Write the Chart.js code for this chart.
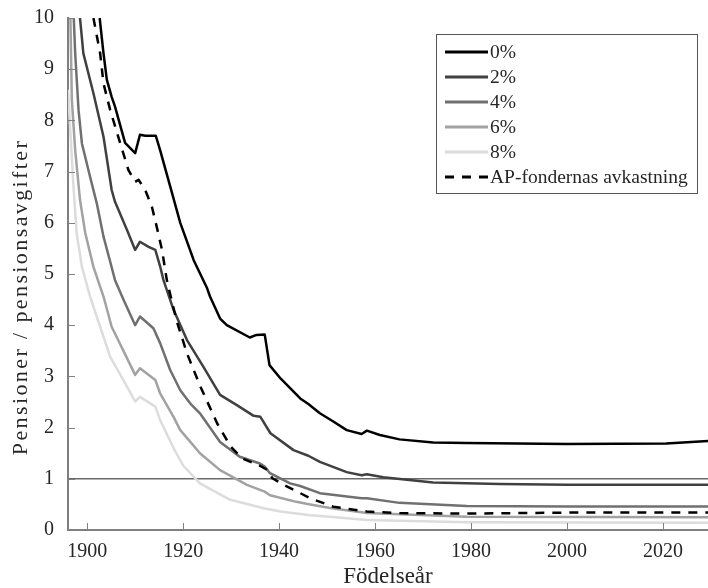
<!DOCTYPE html>
<html>
<head>
<meta charset="utf-8">
<script src="https://cdn.jsdelivr.net/npm/chart.js@4.4.0/dist/chart.umd.min.js"></script>
<style>
    body { margin: 0; background: #fff; }
    #wrap { width: 708px; height: 588px; }
</style>
</head>
<body>
<div id="wrap"><canvas id="pension-chart" width="708" height="588"></canvas></div>
<script>
// Data (birth year -> pensions / contributions)
var years0 = [1902.6, 1903.4, 1904.1, 1905.1, 1905.8, 1907.9, 1910.0, 1911.0, 1912.1, 1914.3, 1915.2, 1917.3, 1919.4, 1922.2, 1925.0, 1925.6, 1927.7, 1929.1, 1933.9, 1935.3, 1937.0, 1938.0, 1940.3, 1944.4, 1946.1, 1948.5, 1951.3, 1954.1, 1957.2, 1958.3, 1961.0, 1965.1, 1972.1, 1979.1, 2000.0, 2020.7, 2030.0];
var vals0 = [10.0, 9.31, 8.79, 8.46, 8.27, 7.56, 7.36, 7.72, 7.70, 7.70, 7.42, 6.71, 6.0, 5.27, 4.72, 4.56, 4.13, 4.0, 3.76, 3.81, 3.82, 3.22, 2.96, 2.57, 2.46, 2.28, 2.12, 1.95, 1.875, 1.94, 1.855, 1.77, 1.71, 1.70, 1.68, 1.69, 1.74];

var years2 = [1898.5, 1899.2, 1901.3, 1903.4, 1905.1, 1905.8, 1908.3, 1910.0, 1911.0, 1912.8, 1914.2, 1915.2, 1915.9, 1918.0, 1920.8, 1924.2, 1927.7, 1931.2, 1934.7, 1936.1, 1938.2, 1943.0, 1946.1, 1948.5, 1954.1, 1957.2, 1958.3, 1961.7, 1972.1, 1986.0, 2000.0, 2030.0];
var vals2 = [10.0, 9.31, 8.53, 7.68, 6.64, 6.41, 5.86, 5.47, 5.63, 5.53, 5.47, 5.15, 4.88, 4.30, 3.71, 3.19, 2.64, 2.44, 2.23, 2.21, 1.89, 1.56, 1.45, 1.33, 1.13, 1.07, 1.09, 1.03, 0.93, 0.90, 0.885, 0.885];

var years4 = [1897.2, 1897.5, 1898.2, 1898.9, 1900.6, 1902.0, 1903.4, 1904.8, 1905.8, 1907.6, 1910.0, 1911.0, 1913.8, 1915.2, 1917.3, 1919.4, 1921.5, 1923.5, 1927.7, 1931.8, 1936.0, 1937.0, 1938.1, 1942.3, 1944.4, 1948.5, 1957.2, 1958.3, 1965.1, 1979.1, 2000.0, 2030.0];
var vals4 = [10.0, 9.31, 8.20, 7.55, 6.90, 6.38, 5.73, 5.24, 4.88, 4.49, 4.00, 4.17, 3.94, 3.65, 3.125, 2.73, 2.47, 2.28, 1.72, 1.43, 1.30, 1.24, 1.11, 0.91, 0.86, 0.72, 0.62, 0.62, 0.53, 0.47, 0.46, 0.46];

var years6 = [1896.5, 1896.8, 1897.5, 1898.5, 1899.6, 1901.3, 1903.4, 1905.1, 1910.0, 1911.0, 1914.2, 1915.2, 1918.0, 1919.4, 1921.5, 1923.5, 1927.7, 1933.3, 1937.0, 1938.1, 1943.6, 1946.5, 1950.6, 1958.3, 1979.1, 2030.0];
var vals6 = [10.0, 8.40, 7.42, 6.45, 5.80, 5.14, 4.56, 3.97, 3.03, 3.16, 2.93, 2.67, 2.21, 1.95, 1.72, 1.50, 1.17, 0.88, 0.75, 0.68, 0.55, 0.50, 0.43, 0.33, 0.26, 0.25];

var years8 = [1896.0, 1897.1, 1897.8, 1898.9, 1900.6, 1904.8, 1908.3, 1910.0, 1911.0, 1914.2, 1915.2, 1918.0, 1920.0, 1923.5, 1929.8, 1937.0, 1940.3, 1946.5, 1950.6, 1958.3, 1979.1, 2030.0];
var vals8 = [8.6, 6.77, 5.80, 5.14, 4.56, 3.38, 2.80, 2.51, 2.60, 2.41, 2.15, 1.60, 1.26, 0.91, 0.59, 0.42, 0.36, 0.29, 0.26, 0.195, 0.15, 0.14];

var yearsAP = [1901.3, 1902.7, 1903.4, 1904.8, 1906.9, 1908.6, 1910.0, 1910.7, 1912.1, 1913.5, 1914.5, 1915.6, 1916.6, 1918.6, 1920.8, 1923.6, 1927.1, 1929.9, 1932.3, 1936.1, 1937.6, 1938.6, 1941.0, 1944.4, 1946.5, 1951.3, 1958.3, 1965.1, 1979.1, 2000.0, 2030.0];
var valsAP = [10.0, 9.31, 8.72, 8.20, 7.55, 7.03, 6.80, 6.84, 6.64, 6.31, 5.92, 5.47, 4.88, 4.10, 3.45, 2.80, 2.08, 1.63, 1.40, 1.25, 1.17, 1.01, 0.88, 0.72, 0.62, 0.455, 0.36, 0.33, 0.32, 0.34, 0.34];

// reference line at 1
var refYears = [1896, 2030];
var refVals = [1, 1];

var seriesLabels = ["0%", "2%", "4%", "6%", "8%", "AP-fondernas avkastning"];
var xTitle = "Födelseår";
var yTitle = "Pensioner / pensionsavgifter";
var xTickStep = 20;
var yTickStep = 1;

var axisColor = "#808080";
var textColor = "#262626";

function toPoints(xs, ys) {
    return xs.map(function (x, i) { return {x: x, y: ys[i]}; });
}

// Small inward tick marks, like the original figure
var innerTicks = {
    id: 'innerTicks',
    afterDraw: function (chart) {
        var ctx = chart.ctx;
        var xs = chart.scales.x, ys = chart.scales.y, area = chart.chartArea;
        ctx.save();
        ctx.strokeStyle = axisColor;
        ctx.lineWidth = 1;
        xs.ticks.forEach(function (t) {
            var px = Math.round(xs.getPixelForValue(t.value)) + 0.5;
            ctx.beginPath();
            ctx.moveTo(px, area.bottom);
            ctx.lineTo(px, area.bottom - 7);
            ctx.stroke();
        });
        ys.ticks.forEach(function (t) {
            var py = Math.round(ys.getPixelForValue(t.value)) + 0.5;
            ctx.beginPath();
            ctx.moveTo(area.left, py);
            ctx.lineTo(area.left + 7, py);
            ctx.stroke();
        });
        ctx.restore();
    }
};

// Y title drawn by hand: the original sits a bit low and is widely set
var yTitlePlugin = {
    id: 'yTitlePlugin',
    afterDraw: function (chart) {
        var ctx = chart.ctx;
        ctx.save();
        ctx.translate(21, 297);
        ctx.rotate(-Math.PI / 2);
        ctx.font = "22px 'Liberation Serif', serif";
        if ('letterSpacing' in ctx) ctx.letterSpacing = "2.4px";
        ctx.fillStyle = textColor;
        ctx.textAlign = "center";
        ctx.textBaseline = "middle";
        ctx.fillText(yTitle, 0, 0);
        ctx.restore();
    }
};

// Boxed legend in the upper right corner
var boxLegend = {
    id: 'boxLegend',
    afterDraw: function (chart) {
        var ctx = chart.ctx;
        var left = 436, top = 34, w = 261, h = 159;
        ctx.save();
        ctx.fillStyle = "#fff";
        ctx.fillRect(left, top, w, h);
        ctx.strokeStyle = "#555";
        ctx.lineWidth = 1;
        ctx.strokeRect(left + 0.5, top + 0.5, w, h);
        ctx.font = "19.5px 'Liberation Serif', serif";
        ctx.textBaseline = "middle";
        ctx.fillStyle = textColor;
        var row = 0;
        chart.data.datasets.forEach(function (ds) {
            if (!ds.inLegend) return;
            var cy = top + 18 + row * 25;
            ctx.beginPath();
            ctx.strokeStyle = ds.borderColor;
            ctx.lineWidth = 3;
            ctx.setLineDash(ds.borderDash || []);
            ctx.moveTo(445, cy);
            ctx.lineTo(488, cy);
            ctx.stroke();
            ctx.setLineDash([]);
            ctx.fillText(ds.label, 490, cy + 1);
            row++;
        });
        ctx.restore();
    }
};

Chart.defaults.font.family = "'Liberation Serif', serif";
Chart.defaults.color = textColor;

var ctx = document.getElementById('pension-chart').getContext('2d');
var pensionChart = new Chart(ctx, {
    type: 'line',
    data: {
        datasets: [
            {label: seriesLabels[0], data: toPoints(years0, vals0), borderColor: "#000000", inLegend: true, order: 1},
            {label: seriesLabels[1], data: toPoints(years2, vals2), borderColor: "#404040", inLegend: true, order: 2},
            {label: seriesLabels[2], data: toPoints(years4, vals4), borderColor: "#707070", inLegend: true, order: 3},
            {label: seriesLabels[3], data: toPoints(years6, vals6), borderColor: "#a2a2a2", inLegend: true, order: 4},
            {label: seriesLabels[4], data: toPoints(years8, vals8), borderColor: "#dcdcdc", inLegend: true, order: 5},
            {label: seriesLabels[5], data: toPoints(yearsAP, valsAP), borderColor: "#000000", borderDash: [9, 8], inLegend: true, order: 0},
            {label: "", data: toPoints(refYears, refVals), borderColor: "#6a6a6a", borderWidth: 1.5, inLegend: false, order: 6}
        ]
    },
    options: {
        responsive: false,
        animation: false,
        layout: {padding: {top: 18, right: 0, left: 0, bottom: 0}},
        elements: {
            line: {borderWidth: 2.5, tension: 0, fill: false, borderJoinStyle: 'round'},
            point: {radius: 0, hoverRadius: 0}
        },
        plugins: {
            legend: {display: false},
            tooltip: {enabled: false}
        },
        scales: {
            x: {
                type: 'linear',
                min: 1896,
                max: 2029.4,
                afterFit: function (scale) { scale.height = 58; },
                grid: {display: false},
                border: {display: true, color: axisColor, width: 2},
                ticks: {
                    stepSize: xTickStep,
                    includeBounds: false,
                    autoSkip: false,
                    maxRotation: 0,
                    padding: 2,
                    font: {size: 20},
                    callback: function (v) { return String(v); }
                },
                title: {display: true, text: xTitle, font: {size: 23, lineHeight: 1}, padding: {top: 0, bottom: 0}}
            },
            y: {
                min: 0,
                max: 10,
                afterFit: function (scale) { scale.width = 68; },
                grid: {display: false},
                border: {display: true, color: axisColor, width: 2},
                ticks: {
                    stepSize: yTickStep,
                    padding: 6,
                    font: {size: 20},
                    callback: function (v) { return String(v); }
                }
            }
        }
    },
    plugins: [innerTicks, yTitlePlugin, boxLegend]
});
</script>
</body>
</html>
